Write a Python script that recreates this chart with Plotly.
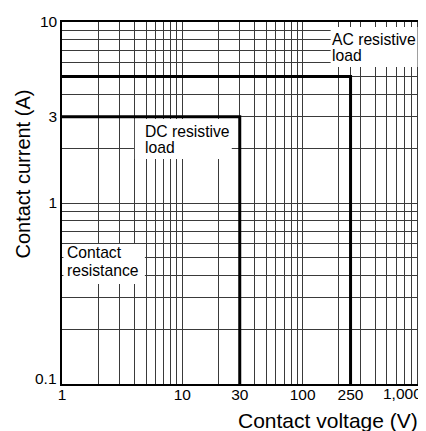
import plotly.graph_objects as go

# ---- data ----
x_grid = [1, 2, 3, 4, 5, 6, 7, 8, 9, 10,
          20, 30, 40, 50, 60, 70, 80, 90, 100,
          200, 250, 300, 400, 500, 600, 700, 800, 900, 1000]
x_labels = {1: "1", 10: "10", 30: "30", 100: "100", 250: "250"}
y_grid = [0.1, 0.2, 0.3, 0.4, 0.5, 0.6, 0.7, 0.8, 0.9,
          1, 2, 3, 4, 5, 6, 7, 8, 9, 10]
y_labels = {1: "1", 3: "3", 10: "10"}

ac_voltage = [1, 250, 250]
ac_current = [5, 5, 0.1]
dc_voltage = [1, 30, 30]
dc_current = [3, 3, 0.1]

FONT = "Liberation Sans, Arial, Helvetica, sans-serif"
GRID = "#3a3a3a"

fig = go.Figure()
for xs, ys in [(ac_voltage, ac_current), (dc_voltage, dc_current)]:
    fig.add_trace(go.Scatter(x=xs, y=ys, mode="lines",
                             line=dict(color="black", width=3),
                             hoverinfo="skip", showlegend=False,
                             cliponaxis=True))

# page has an 8px body margin, so the figure is shrunk by that amount
fig.update_layout(
    width=418, height=423,
    margin=dict(l=54, r=2.5, t=14, b=47),
    plot_bgcolor="white", paper_bgcolor="white",
    font=dict(family=FONT, color="black"),
    showlegend=False,
)

fig.update_xaxes(
    type="log", range=[0, 3],
    tickmode="array", tickvals=x_grid,
    ticktext=[x_labels.get(v, "") for v in x_grid],
    showgrid=True, gridcolor=GRID, gridwidth=1,
    ticks="", tickfont=dict(size=15.5, family=FONT, color="black"),
    ticklabelstandoff=-4,
    showline=True, linecolor="black", linewidth=1.5, mirror=True,
    zeroline=False,
)
fig.update_yaxes(
    type="log", range=[-1, 1],
    tickmode="array", tickvals=y_grid,
    ticktext=[y_labels.get(v, "") for v in y_grid],
    showgrid=True, gridcolor=GRID, gridwidth=1,
    ticks="", tickfont=dict(size=15.5, family=FONT, color="black"),
    showline=True, linecolor="black", linewidth=1.5, mirror=True,
    zeroline=False,
)

# white label boxes (paper coords)
boxes = [
    (0.7441, 0.9848, 0.8757, 0.9862),
    (0.2019, 0.4703, 0.6215, 0.7320),
    (0.004, 0.2296, 0.2762, 0.3867),
]
for x0, x1, y0, y1 in boxes:
    fig.add_shape(type="rect", xref="paper", yref="paper",
                  x0=x0, x1=x1, y0=y0, y1=y1,
                  fillcolor="white", line=dict(width=0), layer="above")

labels = [
    ("AC resistive", 0.7483, 0.9517),
    ("load", 0.7483, 0.9083),
    ("DC resistive", 0.2296, 0.6983),
    ("load", 0.2296, 0.6525),
    ("Contact", 0.0152, 0.3641),
    ("resistance", 0.0152, 0.3144),
]
for txt, x, y in labels:
    fig.add_annotation(text=txt, xref="paper", yref="paper", x=x, y=y,
                       xanchor="left", yanchor="middle", showarrow=False,
                       borderpad=0, borderwidth=0,
                       font=dict(size=15.7, family=FONT, color="black"))

# edge tick labels placed to stay inside the page
fig.add_annotation(text="1,000", xref="paper", yref="paper", x=1.0, y=-9 / 362,
                   xanchor="right", yanchor="middle", showarrow=False,
                   borderpad=0, font=dict(size=15.5, family=FONT, color="black"))
fig.add_annotation(text="0.1", xref="paper", yref="paper", x=-4.5 / 361.5, y=6 / 362,
                   xanchor="right", yanchor="middle", showarrow=False,
                   borderpad=0, font=dict(size=15.5, family=FONT, color="black"))

# axis titles
fig.add_annotation(text="Contact voltage (V)", xref="paper", yref="paper",
                   x=0.9876, y=-0.0995, xanchor="right", yanchor="middle",
                   showarrow=False, borderpad=0,
                   font=dict(size=21, family=FONT, color="black"))
fig.add_annotation(text="Contact current (A)", xref="paper", yref="paper",
                   x=-0.1107, y=0.5787, xanchor="center", yanchor="middle",
                   textangle=-90, showarrow=False, borderpad=0,
                   font=dict(size=20, family=FONT, color="black"))

fig.write_html("out.html")
